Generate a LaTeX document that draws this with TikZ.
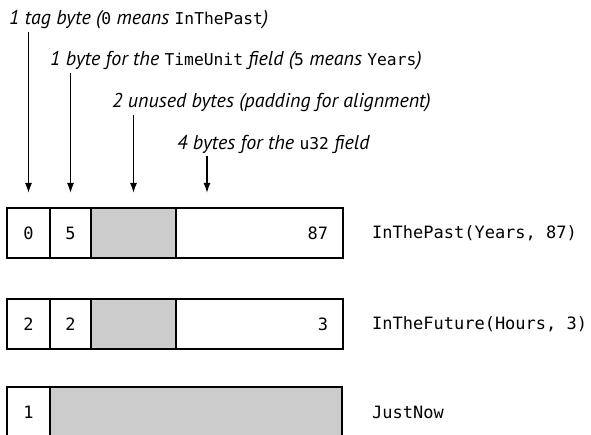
\documentclass[tikz,border=0pt]{standalone}
\usepackage{fontspec}
\setmainfont{PT Sans}
\setmonofont{DejaVu Sans Mono}
\usepackage{tikz}
\usetikzlibrary{positioning}
\usetikzlibrary{arrows.meta}

\newcommand{\rustcode}[1]{{\upshape\ttfamily\fontsize{16.3}{18}\selectfont #1}}

\begin{document}
\begin{tikzpicture}[x=1pt,y=1pt,
	note/.style={anchor=base west,inner sep=2pt,font=\fontsize{20}{24}\selectfont\itshape},
	cell/.style={draw,line width=1.6pt,fill=white,minimum height=50pt,outer sep=0pt,inner sep=0pt,font=\fontsize{17}{18}\ttfamily},
	pad/.style={cell,fill=black!20},
	varname/.style={anchor=west,inner sep=0pt,font=\fontsize{17}{18}\ttfamily},
	ptr/.style={-{Latex[length=10pt,width=7pt]},line width=1.4pt}]
	\useasboundingbox (0,0) rectangle (591,434);
	\node[note] (n0) at (7,409) {1 tag byte (\rustcode{0} means \rustcode{InThePast})};
	\node[note] (n1) at (48,368) {1 byte for the \rustcode{TimeUnit} field (\rustcode{5} means \rustcode{Years})};
	\node[note] (n2) at (110,326) {2 unused bytes (padding for alignment)};
	\node[note] (n3) at (175,284) {4 bytes for the \rustcode{u32} field};

	\node[cell,minimum width=43pt,anchor=north west] (a0) at (7,226) {0};
	\node[cell,minimum width=41pt,right=0pt of a0] (a1) {5};
	\node[pad,minimum width=85pt,right=0pt of a1] (a2) {};
	\node[cell,minimum width=167pt,text width=137pt,align=right,right=0pt of a2] (a3) {87};
	\node[varname,right=29pt of a3] (v0) {InThePast(Years, 87)};

	\node[cell,minimum width=43pt,anchor=north west] (b0) at (7,135) {2};
	\node[cell,minimum width=41pt,right=0pt of b0] (b1) {2};
	\node[pad,minimum width=85pt,right=0pt of b1] (b2) {};
	\node[cell,minimum width=167pt,text width=137pt,align=right,right=0pt of b2] (b3) {3};
	\node[varname,right=29pt of b3] (v1) {InTheFuture(Hours, 3)};

	\node[cell,minimum width=43pt,anchor=north west] (c0) at (7,47) {1};
	\node[pad,minimum width=292pt,right=0pt of c0] (c1) {};
	\node[varname,right=30pt of c1] (v2) {JustNow};

	\coordinate (tip3) at (207,241);
	\draw[ptr] (n0.south -| a0.north) -- ([yshift=15pt]a0.north);
	\draw[ptr] (n1.south -| a1.north) -- ([yshift=15pt]a1.north);
	\draw[ptr] (n2.south -| a2.north) -- ([yshift=15pt]a2.north);
	\draw[ptr] (n3.south -| tip3) -- (tip3);
\end{tikzpicture}
\end{document}
